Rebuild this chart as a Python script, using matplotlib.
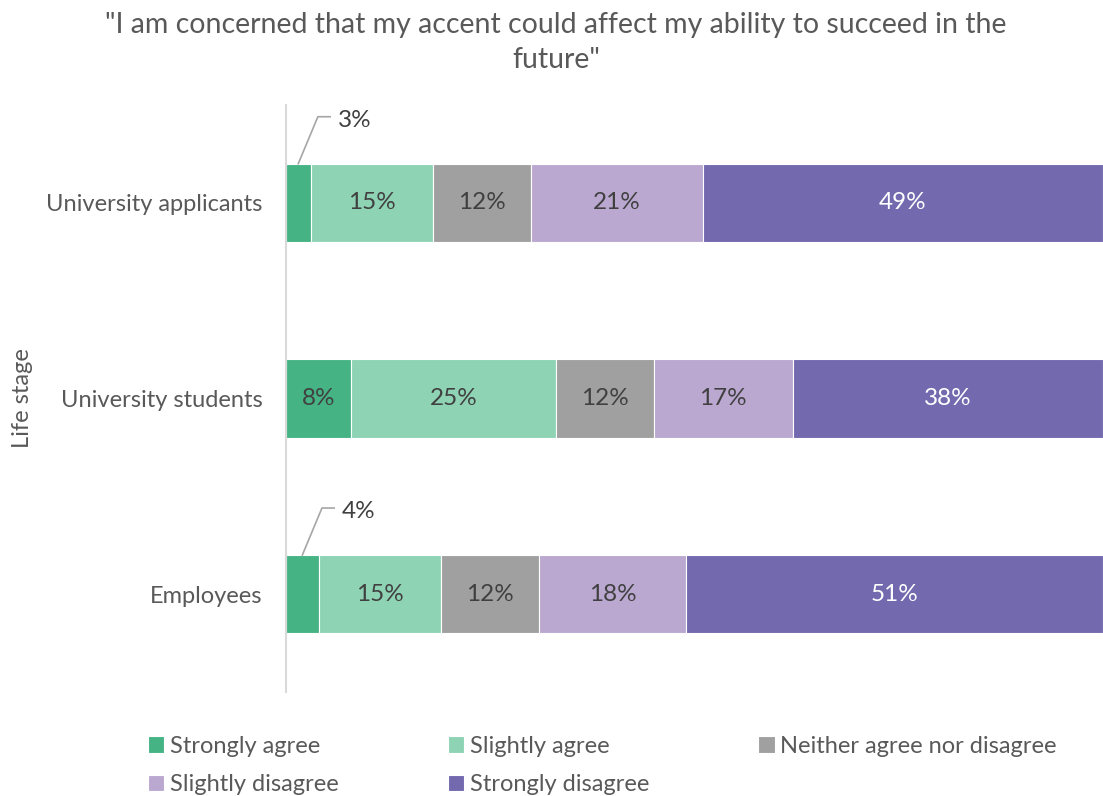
import matplotlib
matplotlib.use("Agg")
import matplotlib.pyplot as plt
import numpy as np

plt.rcParams['font.family'] = ['Lato', 'DejaVu Sans']

# DATA
stages = ['University applicants', 'University students', 'Employees']
responses = ['Strongly agree', 'Slightly agree', 'Neither agree nor disagree',
             'Slightly disagree', 'Strongly disagree']
strongly_agree = [3, 8, 4]
slightly_agree = [15, 25, 15]
neither = [12, 12, 12]
slightly_disagree = [21, 17, 18]
strongly_disagree = [49, 38, 51]

series = [strongly_agree, slightly_agree, neither, slightly_disagree, strongly_disagree]
colors = ['#45b384', '#8fd3b5', '#a0a0a0', '#bba8d1', '#7369ae']
txt_colors = ['#404040', '#404040', '#404040', '#404040', 'white']

fig = plt.figure(figsize=(11.03, 7.96), dpi=100)
ax = fig.add_axes([0.2593, 0.1307, 0.7407, 0.7374])

y = np.arange(len(stages))
left = np.zeros(len(stages))
for vals, name, c, tc in zip(series, responses, colors, txt_colors):
    vals = np.array(vals, dtype=float)
    ax.barh(y, vals, left=left, height=0.4, color=c, edgecolor='white',
            linewidth=0.8, label=name)
    for i, v in enumerate(vals):
        if v >= 5:
            ax.text(left[i] + v / 2, y[i], f'{v:.0f}%', ha='center', va='center',
                    color=tc, fontsize=17.5)
        else:
            # leader line for small segments
            x0 = left[i] + v / 2
            ax.plot([x0, x0 + 2.4, x0 + 3.9], [y[i] - 0.2, y[i] - 0.44, y[i] - 0.44],
                    color='#a6a6a6', lw=1.2, clip_on=False)
            ax.text(x0 + 4.8, y[i] - 0.42, f'{v:.0f}%', ha='left', va='center',
                    color='#404040', fontsize=17.5)
    left += vals

ax.set_xlim(0, 100)
ax.set_ylim(2.5, -0.5)
ax.set_yticks(y)
ax.set_yticklabels(stages, fontsize=17, color='#595959')
ax.tick_params(axis='y', length=0, pad=17)
ax.set_xticks([])
for s in ['top', 'right', 'bottom']:
    ax.spines[s].set_visible(False)
ax.spines['left'].set_color('#d9d9d9')
ax.spines['left'].set_linewidth(1.5)

fig.text(0.02, 0.5, 'Life stage', rotation=90, ha='center', va='center',
         fontsize=17, color='#595959')

fig.suptitle('"I am concerned that my accent could affect my ability to succeed in the\nfuture"',
             x=0.504, y=0.985, fontsize=20.5, color='#595959', linespacing=1.45)

# row-wise legend order for 3 columns
handles, labels = ax.get_legend_handles_labels()
order = [0, 3, 1, 4, 2]
fig.legend([handles[k] for k in order], [labels[k] for k in order],
           loc='upper left', bbox_to_anchor=(0.134, 0.076), ncol=3,
           frameon=False, fontsize=17, labelcolor='#595959', handlelength=0.7,
           handleheight=0.7, handletextpad=0.25, columnspacing=4.6,
           labelspacing=0.75, borderpad=0, borderaxespad=0)

fig.savefig('out.png', dpi=100)
